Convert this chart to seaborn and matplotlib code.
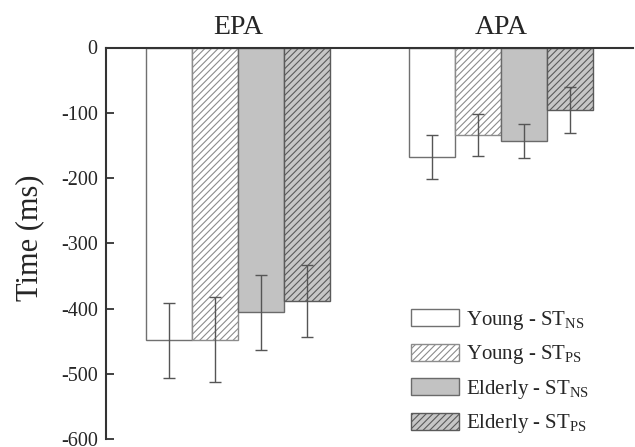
import numpy as np
import pandas as pd
import matplotlib
matplotlib.use("Agg")
import matplotlib.pyplot as plt
import seaborn as sns
from matplotlib.patches import Patch

phases = ["EPA", "APA"]
groups = ["Young - ST$_{\\mathregular{NS}}$", "Young - ST$_{\\mathregular{PS}}$",
          "Elderly - ST$_{\\mathregular{NS}}$", "Elderly - ST$_{\\mathregular{PS}}$"]
epa_means = [-449, -448, -406, -388]
apa_means = [-168, -134, -143, -96]
epa_err = [57, 65, 58, 55]
apa_err = [34, 32, 26, 35]
yticks = [0, -100, -200, -300, -400, -500, -600]

fills = ["#ffffff", "#ffffff", "#c2c2c2", "#c6c6c6"]
hatches = [None, "/////", None, "/////"]
edges = ["#707070", "#8c8c8c", "#6a6a6a", "#5a5a5a"]

sns.set_style("white")
plt.rcParams["font.family"] = ["Liberation Serif", "DejaVu Serif"]
plt.rcParams["mathtext.fontset"] = "custom"
plt.rcParams["mathtext.rm"] = "Liberation Serif"
plt.rcParams["axes.unicode_minus"] = False
plt.rcParams["hatch.linewidth"] = 0.8

df = pd.DataFrame({
    "phase": [p for p in phases for _ in groups],
    "group": groups * 2,
    "value": epa_means + apa_means,
    "err": epa_err + apa_err,
})

fig = plt.figure(figsize=(6.35, 4.47), dpi=100)
ax = fig.add_axes([106 / 635, 1 - 439 / 447, (633 - 106) / 635, (439 - 47.5) / 447])

sns.barplot(data=df, x="phase", y="value", hue="group", hue_order=groups,
            order=phases, palette=fills, width=0.7, errorbar=None, ax=ax,
            legend=False, linewidth=1.0)

for i, gname in enumerate(groups):
    for j, ph in enumerate(phases):
        b = ax.containers[i][j]
        b.set_facecolor(fills[i])
        b.set_edgecolor(edges[i])
        if hatches[i]:
            b.set_hatch(hatches[i])
        row = df[(df.group == gname) & (df.phase == ph)].iloc[0]
        xc = b.get_x() + b.get_width() / 2
        ax.errorbar(xc, row.value, yerr=row.err, fmt="none", ecolor="#555555",
                    elinewidth=1.0, capsize=4, capthick=1.0, zorder=5)

ax.set_ylim(-600, 0)
ax.set_xlim(-0.5, 1.5)
ax.set_yticks(yticks)
ax.set_yticklabels([str(t) for t in yticks], fontsize=14.5)
ax.tick_params(axis="y", direction="in", length=6, width=1.3, color="#333333",
               left=True, pad=6)
ax.tick_params(axis="x", bottom=False, labelbottom=False)
ax.set_xlabel("")
ax.set_ylabel("Time (ms)", fontsize=22)
ax.yaxis.set_label_coords(-0.118, 0.515)
for s in ["right", "bottom"]:
    ax.spines[s].set_visible(False)
for s in ["left", "top"]:
    ax.spines[s].set_linewidth(1.5)
    ax.spines[s].set_color("#333333")

for j, ph in enumerate(phases):
    ax.text(j, 1.02, ph, transform=ax.get_xaxis_transform(), ha="center",
            va="bottom", fontsize=20)

handles = [Patch(facecolor=fills[i], edgecolor=edges[i], hatch=hatches[i],
                 linewidth=1.0) for i in range(4)]
leg = ax.legend(handles, groups, loc="upper left",
                bbox_to_anchor=(411 / 635, 1 - 309 / 447),
                bbox_transform=fig.transFigure, frameon=False, fontsize=15,
                handlelength=2.3, handleheight=0.87, handletextpad=0.35,
                labelspacing=0.55, borderpad=0, borderaxespad=0)

fig.savefig("out.png", dpi=100)
